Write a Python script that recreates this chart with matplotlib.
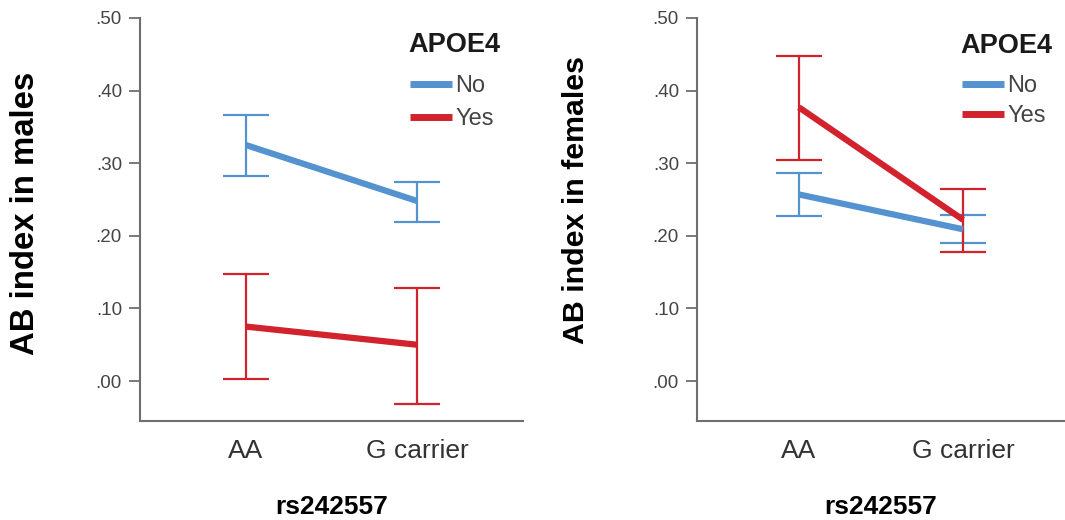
import matplotlib
matplotlib.use("Agg")
import matplotlib.pyplot as plt
from matplotlib.ticker import FuncFormatter

plt.rcParams['font.family'] = ['Liberation Sans', 'DejaVu Sans']

genotypes = ["AA", "G carrier"]
apoe_groups = ["No", "Yes"]
colors = {"No": "#5592d0", "Yes": "#d1222d"}

# males: means with lower / upper error bounds
male_mean = {"No": [0.325, 0.248], "Yes": [0.075, 0.050]}
male_low = {"No": [0.282, 0.219], "Yes": [0.003, -0.031]}
male_high = {"No": [0.366, 0.274], "Yes": [0.147, 0.128]}

# females
female_mean = {"No": [0.257, 0.209], "Yes": [0.377, 0.222]}
female_low = {"No": [0.227, 0.190], "Yes": [0.305, 0.178]}
female_high = {"No": [0.287, 0.228], "Yes": [0.448, 0.264]}

y_ticks = [0.0, 0.1, 0.2, 0.3, 0.4, 0.5]
axis_grey = "#6e6e6e"


def draw_panel(ax, mean, low, high, ylabel, ylabel_size, label_xy, legend_xy,
               legend_gap, title_xy):
    x = list(range(len(genotypes)))
    for g in apoe_groups:
        c = colors[g]
        ax.plot(x, mean[g], color=c, lw=4.5, solid_capstyle="butt", label=g, zorder=3)
        yerr = [[m - l for m, l in zip(mean[g], low[g])],
                [h - m for m, h in zip(mean[g], high[g])]]
        ax.errorbar(x, mean[g], yerr=yerr, fmt="none", ecolor=c, elinewidth=1.6,
                    capsize=16.5, capthick=1.6, zorder=2)
    ax.set_xlim(-0.62, 1.62)
    ax.set_ylim(-0.055, 0.50)
    ax.set_yticks(y_ticks)
    ax.yaxis.set_major_formatter(FuncFormatter(lambda v, p: f"{v:.2f}".lstrip("0")))
    ax.set_xticks(x)
    ax.set_xticklabels(genotypes, fontsize=19, color="#333333")
    ax.tick_params(axis="x", length=0, pad=13)
    ax.tick_params(axis="y", length=8, width=1.3, color=axis_grey, labelsize=13.5,
                   labelcolor="#444444", pad=5)
    for s in ("top", "right"):
        ax.spines[s].set_visible(False)
    for s in ("left", "bottom"):
        ax.spines[s].set_color(axis_grey)
        ax.spines[s].set_linewidth(1.5)
    ax.set_ylabel(ylabel, fontsize=ylabel_size, fontweight="bold")
    ax.yaxis.set_label_coords(*label_xy)
    ax.set_xlabel("rs242557", fontsize=19, fontweight="bold")
    ax.xaxis.set_label_coords(0.5, -0.184)

    # legend: bold heading plus the two APOE4 groups
    ax.text(title_xy[0], title_xy[1], "APOE4", transform=ax.transAxes,
            fontsize=19.5, fontweight="bold", color="#1a1a1a", ha="left", va="center")
    leg = ax.legend(loc="upper left", bbox_to_anchor=legend_xy,
                    frameon=False, fontsize=17, handlelength=1.78, handletextpad=0.15,
                    labelspacing=legend_gap, borderpad=0, borderaxespad=0)
    for line in leg.get_lines():
        line.set_linewidth(5)
    for t in leg.get_texts():
        t.set_color("#444444")


fig = plt.figure(figsize=(10.65, 5.2), dpi=100)
ax1 = fig.add_axes([0.1315, 0.1904, 0.3596, 0.775])
ax2 = fig.add_axes([0.6545, 0.1904, 0.3455, 0.775])

draw_panel(ax1, male_mean, male_low, male_high, "AB index in males", 23.7,
           (-0.258, 0.516), (0.705, 0.858), 0.46, (0.700, 0.933))
draw_panel(ax2, female_mean, female_low, female_high, "AB index in females", 21.9,
           (-0.291, 0.548), (0.72, 0.858), 0.34, (0.715, 0.930))

fig.savefig("out.png", dpi=100, facecolor="white")
